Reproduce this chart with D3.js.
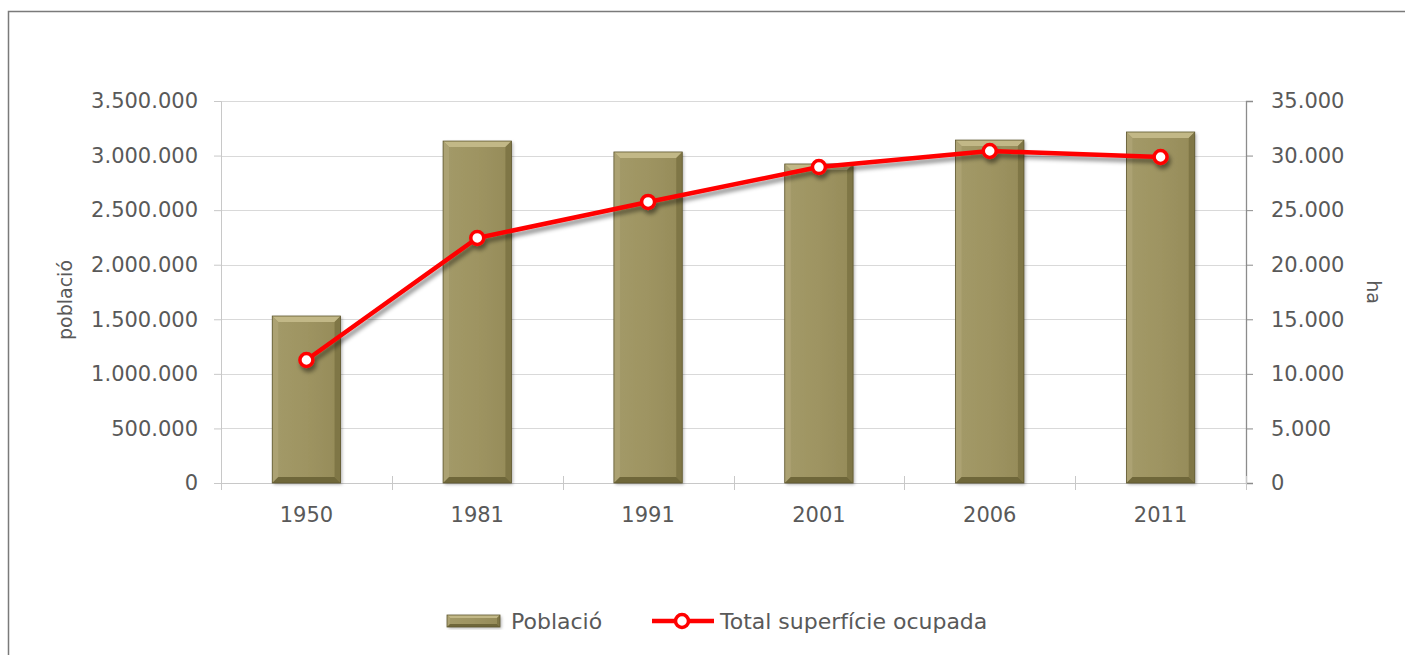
<!DOCTYPE html>
<html><head><meta charset="utf-8">
<script src="https://cdn.jsdelivr.net/npm/d3@7"></script>
<style>body{margin:0;background:#fff}svg{display:block}text{font-family:"DejaVu Sans",Verdana,sans-serif;fill:#595959}</style>
</head><body>
<svg id="c" width="1405" height="655"></svg>
<script>
const years = ["1950","1981","1991","2001","2006","2011"];
const poblacio = [1530000, 3133000, 3033000, 2923000, 3142000, 3216000];
const superficie = [11270, 22450, 25750, 28950, 30420, 29870];
const leftTicks = [0,500000,1000000,1500000,2000000,2500000,3000000,3500000];
const rightTicks = [0,5000,10000,15000,20000,25000,30000,35000];
const seriesNames = ["Població","Total superfície ocupada"];

const svg = d3.select("#c");
const W=1405,H=655;
const m={l:221,r:1246,t:101,b:483};
const fmt = v => d3.format(",")(v).replace(/,/g,".");

const defs = svg.append("defs");
const sh = defs.append("filter").attr("id","lshadow").attr("x","-10%").attr("y","-50%").attr("width","120%").attr("height","200%");
sh.append("feDropShadow").attr("dx",2).attr("dy",4).attr("stdDeviation",2.2).attr("flood-color","#000").attr("flood-opacity",0.45);
const bsh = defs.append("filter").attr("id","bshadow").attr("x","-20%").attr("y","-20%").attr("width","140%").attr("height","140%");
bsh.append("feDropShadow").attr("dx",1.5).attr("dy",1.5).attr("stdDeviation",1.5).attr("flood-color","#000").attr("flood-opacity",0.3);
const g1 = defs.append("linearGradient").attr("id","bg").attr("x1",0).attr("x2",1).attr("y1",0).attr("y2",0);
g1.append("stop").attr("offset","0%").attr("stop-color","#a39a68");
g1.append("stop").attr("offset","50%").attr("stop-color","#9e9462");
g1.append("stop").attr("offset","100%").attr("stop-color","#958b58");

// border
svg.append("path").attr("d",`M8.5,${H} L8.5,11.5 L${W},11.5`).attr("fill","none").attr("stroke","#7a7a7a").attr("stroke-width",1.5);

const x = d3.scaleBand().domain(years).range([m.l,m.r]).paddingInner(0.6).paddingOuter(0.3);
const yL = d3.scaleLinear().domain([0,3500000]).range([m.b,m.t]);
const yR = d3.scaleLinear().domain([0,35000]).range([m.b,m.t]);

// gridlines
svg.append("g").selectAll("line").data(leftTicks.slice(1)).join("line")
  .attr("x1",m.l).attr("x2",m.r).attr("y1",d=>Math.round(yL(d))+0.5).attr("y2",d=>Math.round(yL(d))+0.5)
  .attr("stroke","#d9d9d9").attr("stroke-width",1);

// left axis
const ax1 = svg.append("g").attr("transform",`translate(${m.l},0)`)
  .call(d3.axisLeft(yL).tickValues(leftTicks).tickFormat(fmt).tickSize(7).tickPadding(16));
ax1.select(".domain").attr("stroke","#c8c8c8");
ax1.selectAll(".tick line").attr("stroke","#c8c8c8");
ax1.selectAll("text").attr("font-size",21).attr("fill","#595959").style("font-family","DejaVu Sans");

// right axis
const ax2 = svg.append("g").attr("transform",`translate(${m.r},0)`)
  .call(d3.axisRight(yR).tickValues(rightTicks).tickFormat(fmt).tickSize(7).tickPadding(18));
ax2.select(".domain").attr("stroke","#8c8c8c").attr("stroke-width",1.3);
ax2.selectAll(".tick line").attr("stroke","#8c8c8c");
ax2.selectAll("text").attr("font-size",21).attr("fill","#595959").style("font-family","DejaVu Sans");

// x axis
const bw = x.step();
const bounds = d3.range(years.length+1).map(i=>m.l+i*bw);
svg.append("line").attr("x1",m.l).attr("x2",m.r).attr("y1",m.b+0.5).attr("y2",m.b+0.5).attr("stroke","#c8c8c8");
svg.append("g").selectAll("line").data(bounds).join("line")
  .attr("x1",d=>Math.round(d)+0.5).attr("x2",d=>Math.round(d)+0.5).attr("y1",m.b-7).attr("y2",m.b+7).attr("stroke","#c8c8c8");
svg.append("g").selectAll("text").data(years).join("text")
  .attr("x",d=>x(d)+x.bandwidth()/2).attr("y",m.b+39).attr("text-anchor","middle").attr("font-size",21).text(d=>d);

// bars with bevel
function bevelBar(g,x0,y0,w,h,b){
  g.append("rect").attr("x",x0).attr("y",y0).attr("width",w).attr("height",h).attr("fill","url(#bg)").attr("filter","url(#bshadow)");
  const x1=x0+w,y1=y0+h;
  g.append("polygon").attr("points",`${x0},${y0} ${x1},${y0} ${x1-b},${y0+b} ${x0+b},${y0+b}`).attr("fill","#c2b887");
  g.append("polygon").attr("points",`${x0},${y0} ${x0+b},${y0+b} ${x0+b},${y1-b} ${x0},${y1}`).attr("fill","#aca273");
  g.append("polygon").attr("points",`${x1},${y0} ${x1},${y1} ${x1-b},${y1-b} ${x1-b},${y0+b}`).attr("fill","#7f7646");
  g.append("polygon").attr("points",`${x0},${y1} ${x1},${y1} ${x1-b},${y1-b} ${x0+b},${y1-b}`).attr("fill","#6f673a");
  g.append("rect").attr("x",x0).attr("y",y0).attr("width",w).attr("height",h).attr("fill","none").attr("stroke","#5f5830").attr("stroke-width",0.8);
}
const barsG = svg.append("g");
years.forEach((yr,i)=>{
  const g = barsG.append("g");
  bevelBar(g, x(yr), yL(poblacio[i]), x.bandwidth(), yL(0)-yL(poblacio[i]), 6);
});

// line
const pts = years.map((yr,i)=>[x(yr)+x.bandwidth()/2, yR(superficie[i])]);
const lineG = svg.append("g").attr("filter","url(#lshadow)");
lineG.append("path").attr("d",d3.line()(pts)).attr("fill","none").attr("stroke","#ff0000").attr("stroke-width",4.5).attr("stroke-linejoin","round");
lineG.selectAll("circle").data(pts).join("circle").attr("cx",d=>d[0]).attr("cy",d=>d[1]).attr("r",6.5)
  .attr("fill","#fff").attr("stroke","#ff0000").attr("stroke-width",3.5);

// axis titles
svg.append("text").attr("transform","translate(72,300) rotate(-90)").attr("text-anchor","middle").attr("font-size",19).text("població");
svg.append("text").attr("transform","translate(1367,292) rotate(90)").attr("text-anchor","middle").attr("font-size",19).text("ha");

// legend
const lg = svg.append("g");
const lb = lg.append("g");
bevelBar(lb,447,615,53,12,3);
lg.append("text").attr("x",511).attr("y",629).attr("font-size",22).text(seriesNames[0]);
lg.append("line").attr("x1",652).attr("x2",714).attr("y1",621).attr("y2",621).attr("stroke","#ff0000").attr("stroke-width",4.5);
lg.append("circle").attr("cx",682).attr("cy",621).attr("r",6.5).attr("fill","#fff").attr("stroke","#ff0000").attr("stroke-width",3.5);
lg.append("text").attr("x",720).attr("y",629).attr("font-size",22).text(seriesNames[1]);
</script>
</body></html>
